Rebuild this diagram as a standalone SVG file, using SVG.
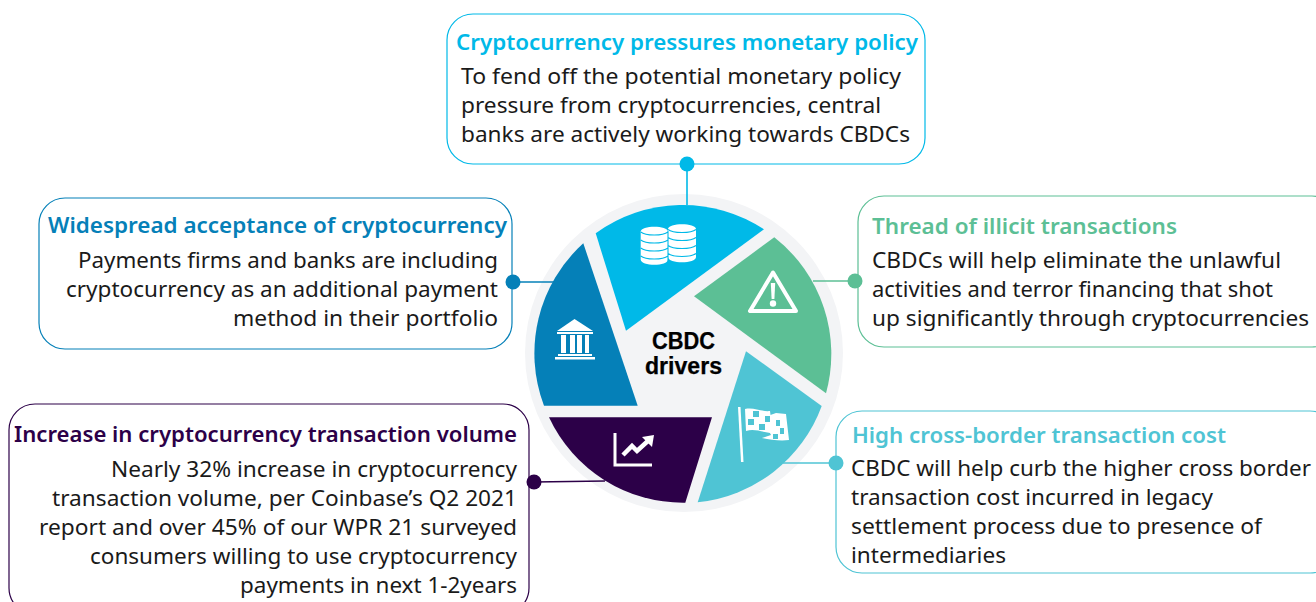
<svg xmlns="http://www.w3.org/2000/svg" width="1316" height="602" viewBox="0 0 1316 602">
<style>
text{font-family:"Noto Sans","Open Sans","Liberation Sans",sans-serif;font-size:22px;fill:#1a1a1a}
.h{font-weight:600;font-size:22px}
.c{font-family:"Liberation Sans",Arial,sans-serif;font-weight:700;font-size:23px;fill:#000;stroke:#000;stroke-width:.25}
.box{fill:#fff;stroke-width:1.2}
.ln{fill:none;stroke-width:1.6}
.ic{fill:#fff}
.is{fill:none;stroke:#fff}
</style>
<rect width="1316" height="602" fill="#fff"/>
<g id="hub">
<circle cx="684" cy="353" r="159" fill="#f3f4f6"/>
<path id="seg-top" fill="#00b9e8" d="M595.700 233.300A148 148 0 0 1 764 229.300L626 330.700Z"/>
<path id="seg-green" fill="#5cbf95" d="M774.300 237.300A148 148 0 0 1 826 393.300L694 296.300Z"/>
<path id="seg-teal" fill="#4fc4d4" d="M746 351.300L821.700 406A148 148 0 0 1 697.700 502.300Z"/>
<path id="seg-purple" fill="#2c0048" d="M549 417.300H712L685.300 502.700A148 148 0 0 1 549 417.300Z"/>
<path id="seg-blue" fill="#0580b8" d="M583.300 243.300L637.700 405.700H544A148 148 0 0 1 583.300 243.300Z"/>
<text class="c" x="652" y="349" textLength="63" lengthAdjust="spacingAndGlyphs">CBDC</text>
<text class="c" x="645" y="374" textLength="77" lengthAdjust="spacingAndGlyphs">drivers</text>
</g>
<g id="connectors">
<path class="ln" stroke="#00b9e8" d="M687 164V205"/>
<path class="ln" stroke="#0580b8" d="M513 282H554"/>
<path class="ln" stroke="#5cbf95" d="M855 281H813"/>
<path class="ln" stroke="#4fc4d4" d="M836 463H783"/>
<path class="ln" stroke="#2c0048" d="M534 482L605 481"/>
</g>
<g id="icon-coins">
<path class="ic" d="M640.700 231.500c0-6.500 27.300-6.500 27.300 0v28c0 7-27.300 7-27.300 0Z"/>
<path class="ic" d="M668 229c0-6.500 28-6.500 28 0v28c0 7-28 7-28 0Z"/>
<path fill="none" stroke="#00b9e8" stroke-width="1.100" d="M640.700 232c5 4 22 4 27.300 0M640.700 240c5 4 22 4 27.300 0M640.700 248c5 4 22 4 27.300 0M640.700 256c5 4 22 4 27.300 0M668 229.500c5 4 23 4 28 0M668 237.500c5 4 23 4 28 0M668 245.500c5 4 23 4 28 0M668 253.500c5 4 23 4 28 0M668 231V262"/>
</g>
<g id="icon-warning">
<path class="is" stroke-width="4" stroke-linejoin="round" d="M773 272.500L750 311H796Z"/>
<path class="ic" d="M770.800 283h4.400l-.8 16h-2.800Z"/>
<circle class="ic" cx="773" cy="303.500" r="3.200"/>
</g>
<g id="icon-bank">
<path class="ic" d="M574.500 319L557 331H593Z"/>
<path class="ic" d="M557 332h36v2h-36ZM561 335h5v18h-5ZM570 335h5v18h-5ZM577 335h5v18h-5ZM585 335h4v18h-4ZM558 354h34v2h-34ZM555 357h40v2.500h-40Z"/>
</g>
<g id="icon-flag">
<path class="ic" d="M738 407h2.500l3 55h-2.500Z"/>
<path class="ic" d="M762 418l14-5 10 1 3 26c-8 1-18 0-27-2l9-3Z"/>
<path class="ic" d="M745 409c9-2 17 3 25 2l3 22c-9 0-18-5-27-2Z"/>
<path fill="#4fc4d4" d="M753 411h6v6h-6ZM765 416h5v6h-5ZM748 419h6v6h-6ZM759 424h6v6h-6ZM776 420h4v6h-4ZM780 428h4v6h-4ZM773 434h5v5h-5Z"/>
</g>
<g id="icon-chart">
<path class="is" stroke-width="3" d="M615 433V465H652"/>
<path class="is" stroke-width="4.500" d="M623 455L632 446L637 451L649 440"/>
<path class="ic" d="M642 437L654 435L652 447Z"/>
</g>
<g id="node-top">
<rect class="box" stroke="#00b9e8" x="447" y="14" width="478" height="150" rx="26"/>
<text class="h" style="fill:#00b9e8" x="456" y="50" textLength="462" lengthAdjust="spacingAndGlyphs">Cryptocurrency pressures monetary policy</text>
<text x="461" y="84" textLength="440" lengthAdjust="spacingAndGlyphs">To fend off the potential monetary policy</text>
<text x="461" y="113" textLength="420" lengthAdjust="spacingAndGlyphs">pressure from cryptocurrencies, central</text>
<text x="461" y="142" textLength="449" lengthAdjust="spacingAndGlyphs">banks are actively working towards CBDCs</text>
<circle cx="687" cy="164" r="7.500" fill="#00b9e8"/>
</g>
<g id="node-left">
<rect class="box" stroke="#0580b8" x="39" y="198" width="473" height="151" rx="26"/>
<text class="h" style="fill:#0580b8" x="48" y="233" textLength="459" lengthAdjust="spacingAndGlyphs">Widespread acceptance of cryptocurrency</text>
<text x="78" y="268" textLength="420" lengthAdjust="spacingAndGlyphs">Payments firms and banks are including</text>
<text x="66" y="297" textLength="432" lengthAdjust="spacingAndGlyphs">cryptocurrency as an additional payment</text>
<text x="233" y="326" textLength="265" lengthAdjust="spacingAndGlyphs">method in their portfolio</text>
<circle cx="513" cy="282" r="7.500" fill="#0580b8"/>
</g>
<g id="node-green">
<rect class="box" stroke="#5cbf95" x="858" y="196" width="480" height="151" rx="26"/>
<text class="h" style="fill:#5cbf95" x="872" y="234" textLength="305" lengthAdjust="spacingAndGlyphs">Thread of illicit transactions</text>
<text x="872" y="268" textLength="409" lengthAdjust="spacingAndGlyphs">CBDCs will help eliminate the unlawful</text>
<text x="872" y="297" textLength="401" lengthAdjust="spacingAndGlyphs">activities and terror financing that shot</text>
<text x="872" y="326" textLength="437" lengthAdjust="spacingAndGlyphs">up significantly through cryptocurrencies</text>
<circle cx="855" cy="281" r="7.500" fill="#5cbf95"/>
</g>
<g id="node-teal">
<rect class="box" stroke="#4fc4d4" x="836" y="411" width="500" height="162" rx="26"/>
<text class="h" style="fill:#4fc4d4" x="852" y="443" textLength="374" lengthAdjust="spacingAndGlyphs">High cross-border transaction cost</text>
<text x="851" y="476" textLength="460" lengthAdjust="spacingAndGlyphs">CBDC will help curb the higher cross border</text>
<text x="851" y="505" textLength="362" lengthAdjust="spacingAndGlyphs">transaction cost incurred in legacy</text>
<text x="851" y="534" textLength="411" lengthAdjust="spacingAndGlyphs">settlement process due to presence of</text>
<text x="851" y="563" textLength="155" lengthAdjust="spacingAndGlyphs">intermediaries</text>
<circle cx="836" cy="463" r="7.500" fill="#4fc4d4"/>
</g>
<g id="node-purple">
<rect class="box" stroke="#2c0048" x="9" y="404" width="520" height="210" rx="26"/>
<text class="h" style="fill:#2c0048" x="14" y="442" textLength="503" lengthAdjust="spacingAndGlyphs">Increase in cryptocurrency transaction volume</text>
<text x="111" y="477" textLength="406" lengthAdjust="spacingAndGlyphs">Nearly 32% increase in cryptocurrency</text>
<text x="52" y="506" textLength="465" lengthAdjust="spacingAndGlyphs">transaction volume, per Coinbase’s Q2 2021</text>
<text x="39" y="535" textLength="478" lengthAdjust="spacingAndGlyphs">report and over 45% of our WPR 21 surveyed</text>
<text x="90" y="564" textLength="427" lengthAdjust="spacingAndGlyphs">consumers willing to use cryptocurrency</text>
<text x="240" y="593" textLength="277" lengthAdjust="spacingAndGlyphs">payments in next 1-2years</text>
<circle cx="534" cy="482" r="7.500" fill="#2c0048"/>
</g>
</svg>
